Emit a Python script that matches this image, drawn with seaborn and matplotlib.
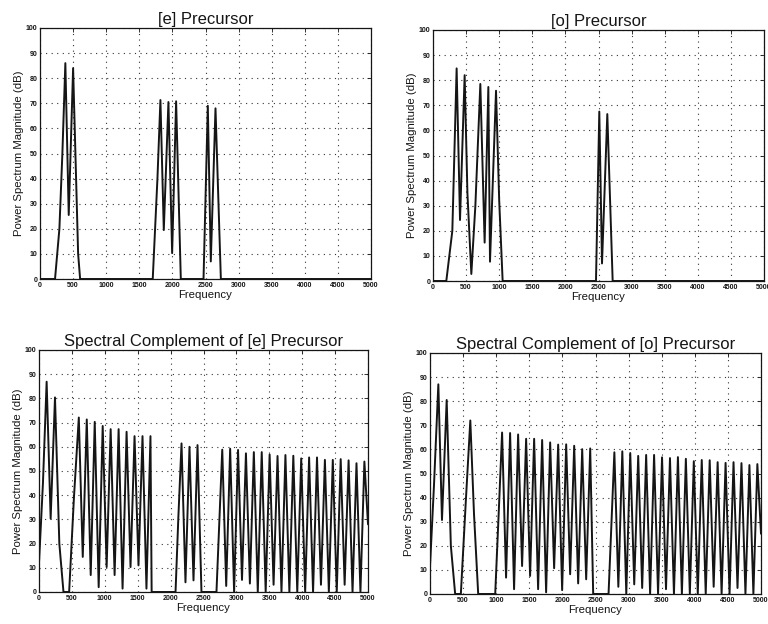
import matplotlib
matplotlib.use("Agg")
import matplotlib.pyplot as plt
import seaborn as sns
import pandas as pd

sns.set_theme(style="white")
plt.rcParams['font.family'] = ['Liberation Sans', 'DejaVu Sans']

# ---------------- data (vertices) ----------------
titles = ["[e] Precursor", "[o] Precursor",
          "Spectral Complement of [e] Precursor",
          "Spectral Complement of [o] Precursor"]

x_ticks = [0, 500, 1000, 1500, 2000, 2500, 3000, 3500, 4000, 4500, 5000]
y_ticks = [0, 10, 20, 30, 40, 50, 60, 70, 80, 90, 100]

# [e] precursor
e_freq = [0, 227, 293, 338, 383, 434, 500, 576, 606,
          1703, 1774, 1819, 1870, 1940, 1996, 2056, 2127,
          2470, 2535, 2580, 2651, 2732, 5000]
e_db = [0, 0, 20, 50, 86, 25.5, 84, 10, 0,
        0, 40, 71.3, 19.5, 70.5, 10.3, 70.8, 0,
        0, 69, 7, 68, 0, 0]

# [o] precursor
o_freq = [0, 201, 292, 357, 408, 478, 520, 579, 640, 715, 780, 836, 861, 952,
          1000, 1052, 2462, 2512, 2553, 2633, 2714, 5000]
o_db = [0, 0, 20, 84.7, 24.3, 82, 35, 2.8, 30, 78.5, 15.3, 77.3, 7.7, 75.8,
        32, 0, 0, 67.5, 7, 66.5, 0, 0]

# upper-band harmonics (frequency grid)
hi_freq = [2697, 2742, 2785, 2845, 2905, 2965, 3025, 3085, 3145, 3205, 3265,
           3325, 3385, 3445, 3505, 3565, 3625, 3685, 3745, 3805, 3865, 3925,
           3985, 4045, 4105, 4165, 4225, 4285, 4345, 4405, 4465, 4525, 4585,
           4645, 4705, 4765, 4825, 4885, 4945, 5000]

# spectral complement of [e]
ce_freq = [0, 60, 116, 177, 243, 309, 372, 458, 531, 605, 665, 726, 786, 847,
           907, 968, 1028, 1089, 1149, 1210, 1270, 1331, 1391, 1452, 1512,
           1573, 1633, 1694, 1712, 2075, 2118, 2166, 2226, 2287, 2348, 2409,
           2469] + hi_freq
ce_db = [12, 45, 86.9, 30.3, 80.4, 20, 0, 0, 39, 72.1, 14.5, 71.3, 7, 70.3,
         2, 68.6, 10.3, 67.3, 7, 67.3, 1.4, 66.2, 10.3, 64.4, 11, 64.4, 1.4,
         64.4, 0, 0, 31, 61.4, 4, 60, 4.8, 60.7, 0,
         0, 30, 58.8, 2.5, 59.2, 0, 58.7, 5, 57.3, 3.5, 57.8, 0, 57.8, 0,
         56.8, 3, 56.2, 0, 56.6, 0, 56.3, 0, 55.2, 0, 55.6, 0, 55.6, 3, 54.6,
         0, 54.6, 0, 54.9, 3, 54.4, 0, 53.2, 0, 53.9, 28]

# spectral complement of [o]
co_freq = [0, 60, 126, 181, 252, 315, 380, 466, 540, 609, 665, 728,
           985, 1040, 1089, 1149, 1210, 1270, 1331, 1391, 1452, 1512, 1573,
           1633, 1694, 1754, 1815, 1875, 1936, 1996, 2057, 2117, 2178, 2238,
           2299, 2359, 2420, 2465] + hi_freq
co_db = [11.4, 45, 87, 30.7, 80.5, 20, 0, 0, 38, 72, 33, 0,
         0, 35, 67, 6.8, 66.8, 2, 66.2, 11.6, 64.4, 7.5, 64.4, 2, 63.9, 0.7,
         62.9, 10.7, 62, 1.6, 62.1, 8.2, 61.5, 4.4, 60.1, 6.1, 60.4, 0,
         0, 30, 58.8, 3, 59.2, 0, 58.5, 4, 57.3, 2.5, 57.7, 0, 57.7, 0,
         56.7, 2, 56.4, 0, 56.8, 0, 56.1, 0, 55.1, 0, 55.6, 0, 55.5, 3, 54.7,
         0, 54.4, 0, 54.7, 2.5, 54.3, 0, 53.5, 0, 53.9, 25]

series = [(e_freq, e_db), (o_freq, o_db), (ce_freq, ce_db), (co_freq, co_db)]

# ---------------- layout ----------------
W, H = 768, 624
boxes = [(40, 28, 371, 279), (433, 30, 764, 281),
         (39, 350, 368, 592), (430, 353, 761, 594)]

fig = plt.figure(figsize=(W / 100, H / 100), dpi=100)
fig.patch.set_facecolor('white')

for (x0, y0, x1, y1), title, (fr, db) in zip(boxes, titles, series):
    ax = fig.add_axes([x0 / W, 1 - y1 / H, (x1 - x0) / W, (y1 - y0) / H])
    df = pd.DataFrame({"Frequency": fr, "dB": db})
    sns.lineplot(data=df, x="Frequency", y="dB", ax=ax, color='#151515',
                 lw=1.4, sort=False, estimator=None)
    ax.set_xlim(0, 5000)
    ax.set_ylim(0, 100)
    ax.set_xticks(x_ticks)
    ax.set_yticks(y_ticks)
    ax.set_xticklabels([str(t) for t in x_ticks], fontweight='bold')
    ax.set_yticklabels([str(t) for t in y_ticks], fontweight='bold')
    ax.grid(True, color='#333333', linestyle=(0, (1, 4)), lw=0.8)
    ax.tick_params(direction='in', top=True, right=True, length=3,
                   width=0.6, labelsize=5, pad=2, colors='#151515')
    for s in ax.spines.values():
        s.set_color('#151515')
        s.set_linewidth(0.9)
    ax.set_title(title, fontsize=12, pad=3, color='#151515')
    ax.set_xlabel("Frequency", fontsize=8.2, labelpad=1, color='#151515')
    ax.set_ylabel("Power Spectrum Magnitude (dB)", fontsize=8.2,
                  labelpad=1, color='#151515')

fig.savefig("out.png", dpi=100, facecolor='white')
